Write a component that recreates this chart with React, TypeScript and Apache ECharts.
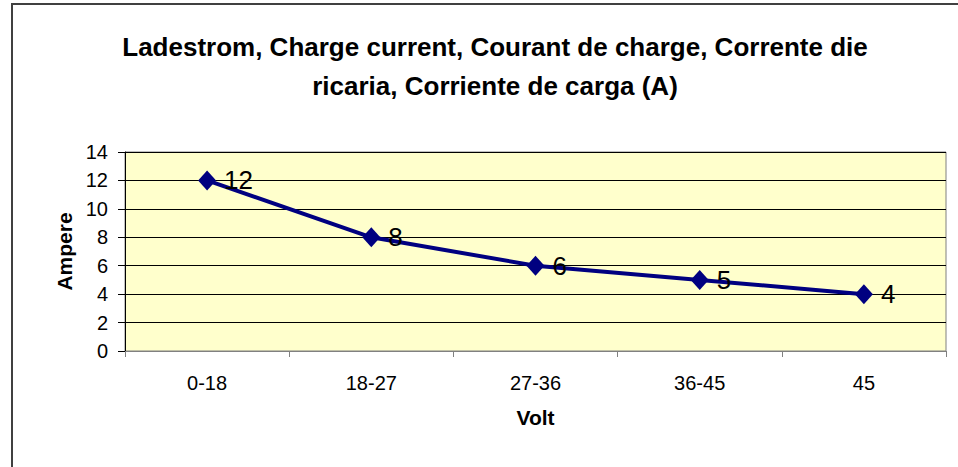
import React, { useEffect, useRef } from "react";
import * as echarts from "echarts";

const categories = ["0-18", "18-27", "27-36", "36-45", "45"];
const currentValues = [12, 8, 6, 5, 4];
const titleLines = [
  "Ladestrom, Charge current, Courant de charge, Corrente die",
  "ricaria, Corriente de carga (A)",
];
const yMin = 0;
const yMax = 14;
const yInterval = 2;

export default function App() {
  const ref = useRef<HTMLDivElement>(null);
  useEffect(() => {
    if (!ref.current) return;
    const chart = echarts.init(ref.current, null, { renderer: "svg" });
    const font = "'Liberation Sans', Arial, sans-serif";
    chart.setOption({
      animation: false,
      backgroundColor: "#ffffff",
      graphic: [
        {
          type: "rect",
          shape: { x: 12, y: 4, width: 1200, height: 1200 },
          style: { fill: "none", stroke: "#404040", lineWidth: 2 },
          silent: true,
        },
        {
          type: "text",
          x: 495,
          y: 47,
          style: {
            text: titleLines[0],
            fontFamily: font,
            fontWeight: "bold",
            fontSize: 26,
            fill: "#000",
            textAlign: "center",
            textVerticalAlign: "middle",
          },
        },
        {
          type: "text",
          x: 495,
          y: 86,
          style: {
            text: titleLines[1],
            fontFamily: font,
            fontWeight: "bold",
            fontSize: 26,
            fill: "#000",
            textAlign: "center",
            textVerticalAlign: "middle",
          },
        },
      ],
      grid: {
        left: 125,
        right: 12,
        top: 152,
        bottom: 116,
        show: true,
        backgroundColor: "#FFFFCC",
        borderColor: "#808080",
        borderWidth: 1,
      },
      xAxis: {
        type: "category",
        data: categories,
        boundaryGap: true,
        name: "Volt",
        nameLocation: "middle",
        nameGap: 56,
        nameTextStyle: { fontFamily: font, fontSize: 21, fontWeight: "bold", color: "#000" },
        axisLine: { show: true, lineStyle: { color: "#808080", width: 1 } },
        axisTick: { show: true, length: 6, lineStyle: { color: "#808080" }, alignWithLabel: false },
        axisLabel: { fontFamily: font, fontSize: 20, color: "#000", margin: 22 },
        splitLine: { show: false },
      },
      yAxis: {
        type: "value",
        min: yMin,
        max: yMax,
        interval: yInterval,
        name: "Ampere",
        nameLocation: "middle",
        nameGap: 50,
        nameTextStyle: { fontFamily: font, fontSize: 21, fontWeight: "bold", color: "#000" },
        axisLine: { show: true, lineStyle: { color: "#000", width: 1 } },
        axisTick: { show: true, length: 7, lineStyle: { color: "#000" } },
        axisLabel: { fontFamily: font, fontSize: 20, color: "#000", margin: 17 },
        splitLine: { show: true, lineStyle: { color: "#000", width: 1 } },
      },
      series: [
        {
          type: "line",
          data: currentValues,
          symbol: "diamond",
          symbolSize: [18, 20],
          itemStyle: { color: "#000080" },
          lineStyle: { color: "#000080", width: 4 },
          label: {
            show: true,
            position: "right",
            distance: 8,
            fontFamily: font,
            fontSize: 26,
            color: "#000",
          },
        },
      ],
    });
    return () => chart.dispose();
  }, []);
  return (
    <div
      ref={ref}
      style={{ position: "fixed", left: 0, top: 0, width: 958, height: 467 }}
    />
  );
}
